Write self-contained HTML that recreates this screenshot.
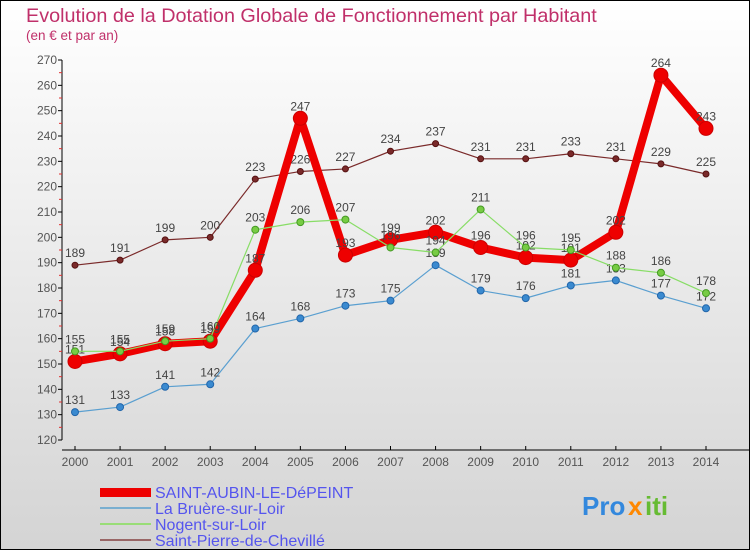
<!DOCTYPE html>
<html><head><meta charset="utf-8"><style>
body{margin:0}
svg text{font-family:"Liberation Sans",sans-serif}
</style></head><body>
<svg id="c" width="750" height="550" xmlns="http://www.w3.org/2000/svg">
<defs><linearGradient id="bg" x1="0" y1="0" x2="0" y2="1"><stop offset="0" stop-color="#ffffff"/><stop offset="1" stop-color="#d4d4d4"/></linearGradient></defs>
<rect x="0.5" y="0.5" width="749" height="549" fill="url(#bg)" stroke="#000"/>
<text x="26" y="22" font-size="19.8" fill="#c0306a">Evolution de la Dotation Globale de Fonctionnement par Habitant</text>
<text x="26" y="40" font-size="13.5" fill="#c0306a">(en € et par an)</text>
<g id="axes"></g><g id="series"></g>
<g font-size="16" fill="#5555ee">
<rect x="100" y="488" width="51" height="9" fill="#ee0000"/>
<text x="155" y="498">SAINT-AUBIN-LE-DéPEINT</text>
<rect x="100" y="507" width="51" height="2" fill="#7aafd0"/>
<text x="155" y="514">La Bruère-sur-Loir</text>
<rect x="100" y="523" width="51" height="2" fill="#99dd77"/>
<text x="155" y="530">Nogent-sur-Loir</text>
<rect x="100" y="539" width="51" height="2" fill="#996666"/>
<text x="155" y="546">Saint-Pierre-de-Chevillé</text>
</g>
<g font-size="26" font-weight="bold">
<text x="582" y="515" fill="#3388dd">Pro</text><text x="628" y="515" fill="#ff8800">x</text><text x="645" y="515" fill="#66bb33">iti</text>
</g>
</svg>
<script>
const years=[2000,2001,2002,2003,2004,2005,2006,2007,2008,2009,2010,2011,2012,2013,2014];
const saintAubin=[151,154,158,159,187,247,193,199,202,196,192,191,202,264,243];
const laBruere=[131,133,141,142,164,168,173,175,189,179,176,181,183,177,172];
const nogent=[155,155,159,160,203,206,207,196,194,211,196,195,188,186,178];
const saintPierre=[189,191,199,200,223,226,227,234,237,231,231,233,231,229,225];
const yTicks=[120,130,140,150,160,170,180,190,200,210,220,230,240,250,260,270];
const NS="http://www.w3.org/2000/svg";
const X=i=>75+i*(706-75)/14;
const Y=v=>440-(v-120)*(380/150);
function mk(t,a,p){const e=document.createElementNS(NS,t);for(const k in a)e.setAttribute(k,a[k]);p.appendChild(e);return e;}
const ax=document.getElementById('axes');
let l=mk('line',{x1:62,y1:60,x2:62,y2:440,stroke:'#000'},ax);


l=mk('line',{x1:62,y1:450,x2:750,y2:450,stroke:'#000'},ax);


yTicks.forEach(v=>{
 mk('line',{x1:58,x2:62,y1:Y(v),y2:Y(v),stroke:'#000'},ax);
 if(v<270)mk('line',{x1:59,x2:62,y1:Y(v+5),y2:Y(v+5),stroke:'#e03030'},ax);
 const t=mk('text',{x:57,y:Y(v)+4,'font-size':12,'text-anchor':'end',fill:'#555'},ax);t.textContent=v;
 
 
});
years.forEach((y,i)=>{
 mk('line',{x1:X(i),x2:X(i),y1:446,y2:450,stroke:'#000'},ax);
 const t=mk('text',{x:X(i),y:466,'font-size':12,'text-anchor':'middle',fill:'#555'},ax);t.textContent=y;
 
 
});
const sg=document.getElementById('series');
function draw(data,name,color,w,r,dot,stroke){
 const g=mk('g',{},sg);
 
 
 const p=mk('polyline',{points:data.map((v,i)=>X(i)+','+Y(v)).join(' '),fill:'none',stroke:color,'stroke-width':w,'stroke-linejoin':'round'},g);
 
 
 data.forEach((v,i)=>{
  const c=mk('circle',{cx:X(i),cy:Y(v),r:r,fill:dot,stroke:stroke,'stroke-width':1},g);
  
  
  const t=mk('text',{x:X(i),y:Y(v)-8,'font-size':12,'text-anchor':'middle',fill:'#444'},g);t.textContent=v;
  
  
 });
}
draw(saintPierre,'saint-pierre-series','#7a2a2a',1.2,3,'#7a2a2a','#551111');
draw(laBruere,'la-bruere-series','#5a9fd0',1.2,3.5,'#3a8ad0','#2266aa');
draw(saintAubin,'saint-aubin-series','#ee0000',8,7,'#ee0000','#cc0000');
draw(nogent,'nogent-series','#88dd66',1.2,3.5,'#77cc44','#449922');
</script>
</body></html>
